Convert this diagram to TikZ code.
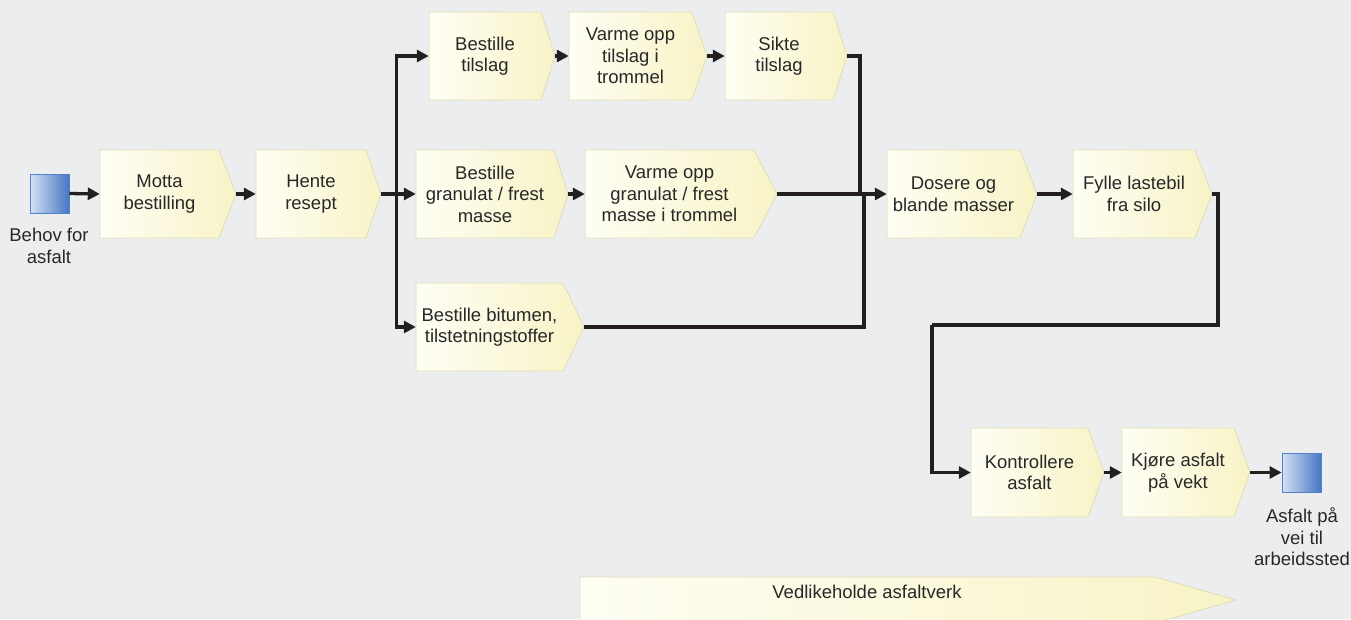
\documentclass[tikz,border=0pt]{standalone}
\usepackage{fontspec}
\setmainfont{Liberation Sans}
\usetikzlibrary{arrows.meta}
\definecolor{bg}{RGB}{236,237,239}
\definecolor{boxL}{RGB}{254,254,244}
\definecolor{boxR}{RGB}{248,243,198}
\definecolor{boxB}{RGB}{224,221,182}
\definecolor{sqL}{RGB}{212,226,244}
\definecolor{sqR}{RGB}{70,118,196}
\definecolor{sqB}{RGB}{84,130,200}
\definecolor{ln}{RGB}{35,31,32}
\definecolor{tx}{RGB}{40,40,40}
\tikzset{
  procshape/.style={left color=boxL, right color=boxR, draw=boxB, line width=0.8pt},
  txt/.style={align=center, inner sep=0pt, text=tx, font=\fontsize{18.5}{21.5}\selectfont},
  sq/.style={minimum size=39pt, inner sep=0pt, left color=sqL, right color=sqR, draw=sqB, line width=0.8pt},
  conn/.style={draw=ln, line width=3.3pt},
  arr/.style={conn, -{Triangle[length=12pt,width=12pt]}},
}
\newcommand\procbox[7]{%
  \path[procshape] (#2,#3) -- (#4,#3) -- (#5,{(#3+#6)/2}) -- (#4,#6) -- (#2,#6) -- cycle;
  \node[txt, minimum width={(#4-#2)*1pt}, minimum height={(#6-#3)*1pt}] (#1) at ({(#2+#4)/2},{(#3+#6)/2}) {#7};
  \coordinate (#1-e) at (#5,{(#3+#6)/2});
}
\begin{document}
\begin{tikzpicture}[x=1pt,y=-1pt]
\useasboundingbox (0,0) rectangle (1351,619);
\fill[bg] (0,0) rectangle (1351,619);

% start / end
\node[sq] (start) at (49.5,193.5) {};
\node[txt] (startlbl) at (49,246) {Behov for\\asfalt};
\node[sq] (finish) at (1301.5,472.5) {};
\node[txt] (finishlbl) at (1302,537) {Asfalt på\\vei til\\arbeidssted};

% process boxes
\procbox{motta}{100}{150}{219}{236}{238}{Motta\\bestilling}
\procbox{hente}{256}{150}{366}{381}{238}{Hente\\resept}
\procbox{btilslag}{429}{12}{541}{555}{100}{Bestille\\tilslag}
\procbox{varme1}{569}{12}{692}{707}{100}{Varme opp\\tilslag i\\trommel}
\procbox{sikte}{725}{12}{833}{847}{100}{Sikte\\tilslag}
\procbox{bgran}{416}{150}{554}{568}{238}{Bestille\\granulat / frest\\masse}
\procbox{varme2}{585}{150}{754}{777}{238}{Varme opp\\granulat / frest\\masse i trommel}
\procbox{bbit}{416}{283}{563}{584}{371}{Bestille bitumen,\\tilstetningstoffer}
\procbox{dosere}{887}{150}{1020}{1037}{238}{Dosere og\\blande masser}
\procbox{fylle}{1073}{150}{1195}{1212}{238}{Fylle lastebil\\fra silo}
\procbox{kontr}{971}{428}{1088}{1104}{517}{Kontrollere\\asfalt}
\procbox{kjore}{1122}{428}{1234}{1250}{517}{Kjøre asfalt\\på vekt}

% maintenance bar
\path[procshape] (580,577) -- (1155,577) -- (1236,600) -- (1155,623) -- (580,623) -- cycle;
\node[txt] (vedl) at (867,592) {Vedlikeholde asfaltverk};

% connectors
\coordinate (j1) at (396.5,193.5);
\coordinate (j2) at (860,193.5);
\coordinate (j3) at (864,193.5);
\coordinate (f1) at (1218,325);
\coordinate (f2) at (932,325);

\draw[arr] (start.east) -- (motta.west);
\draw[arr] (motta-e) -- (motta-e -| hente.west);
\draw[arr] (hente-e) -- (hente-e -| bgran.west);
\draw[arr] (j1) |- (btilslag.west);
\draw[arr] (j1) |- (bbit.west);
\draw[arr] (btilslag-e) -- (btilslag-e -| varme1.west);
\draw[arr] (varme1-e) -- (varme1-e -| sikte.west);
\draw[conn] (sikte-e) -| (j2);
\draw[conn] (bbit-e) -| (j3);
\draw[arr] (varme2-e) -- (varme2-e -| dosere.west);
\draw[arr] (bgran-e) -- (bgran-e -| varme2.west);
\draw[arr] (dosere-e) -- (dosere-e -| fylle.west);
\draw[conn] (fylle-e) -| (f1) -- (f2);
\draw[arr] (f2) |- (kontr.west);
\draw[arr] (kontr-e) -- (kontr-e -| kjore.west);
\draw[arr] (kjore-e) -- (finish.west);
\end{tikzpicture}
\end{document}
